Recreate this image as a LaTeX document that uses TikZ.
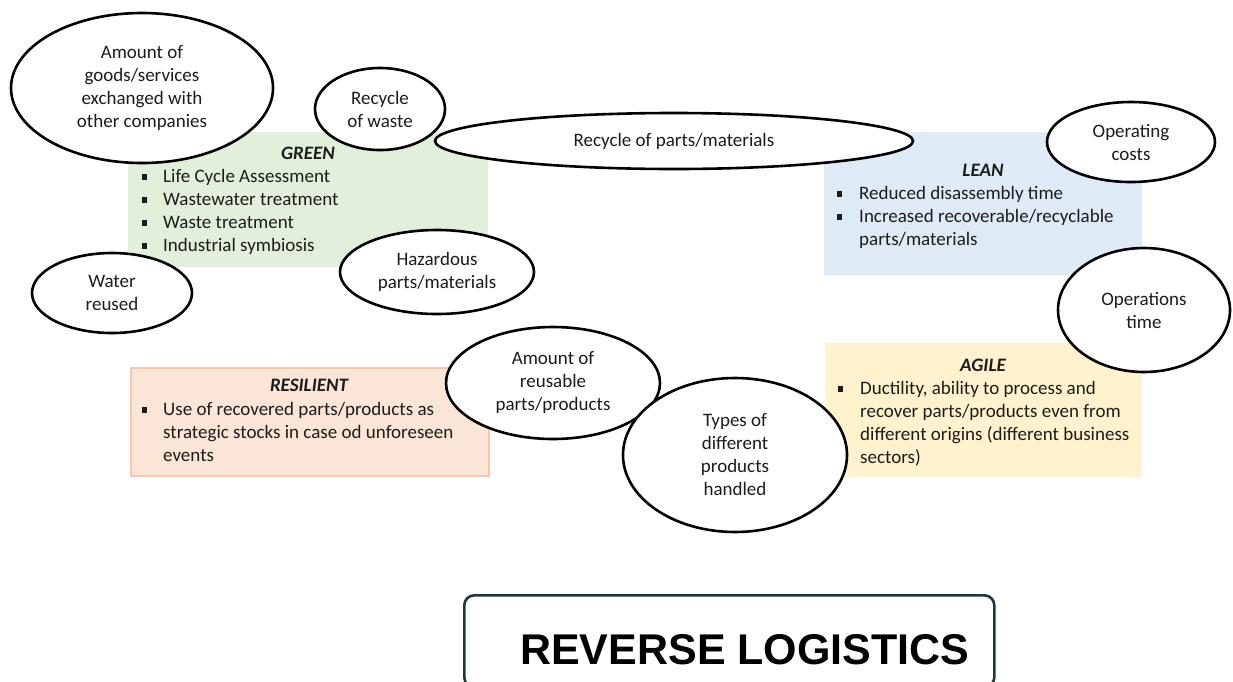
\documentclass[tikz,border=0pt]{standalone}
\usepackage{fontspec}
\setmainfont{Carlito}
\newfontfamily\headfont{Liberation Sans}
\usetikzlibrary{shapes.geometric}

\definecolor{greenfill}{HTML}{E2EFDA}
\definecolor{leanfill}{HTML}{DEEAF6}
\definecolor{agilefill}{HTML}{FFF2CC}
\definecolor{resfill}{HTML}{FBE5D6}
\definecolor{resline}{HTML}{F5C9AA}
\definecolor{frameline}{HTML}{1E3640}
\definecolor{ink}{HTML}{1C1C1C}

\newcommand\bodysize{\fontsize{19pt}{23pt}\selectfont}
\newcommand\sqbullet{\rule[2.4pt]{5pt}{5.5pt}}

\tikzset{
  oval/.style={ellipse, draw=black, line width=2.6pt, fill=white, inner sep=0pt,
    align=center, font=\bodysize, text=ink},
  panel/.style={rectangle, anchor=north west, inner sep=0pt, draw=none},
  panelhead/.style={anchor=base, inner sep=0pt, font=\bodysize\bfseries\itshape, text=ink},
  panelbody/.style={anchor=north west, inner sep=0pt, font=\bodysize, text=ink},
}

\begin{document}
\begin{tikzpicture}[x=1pt, y=-1pt]
\useasboundingbox (0,0) rectangle (1233,681);

% coloured panels
\node[panel, fill=greenfill, minimum width=360pt, minimum height=135pt] (green) at (128,132) {};
\node[panel, fill=leanfill, minimum width=318pt, minimum height=143pt] (lean) at (824,132) {};
\node[panel, fill=agilefill, minimum width=317pt, minimum height=134pt] (agile) at (825,343) {};
\node[panel, fill=resfill, draw=resline, line width=1.6pt, minimum width=358pt, minimum height=108pt] (resilient) at (130,367) {};

% panel headings
\node[panelhead] (greenhead) at (308,159) {GREEN};
\node[panelhead] (leanhead) at (983,176) {LEAN};
\node[panelhead] (agilehead) at (983,371) {AGILE};
\node[panelhead] (reshead) at (309,391) {RESILIENT};

% panel bullet lists
\node[panelbody] (greenbody) at (142,165.9) {\begin{tabular}{@{}p{21pt}@{}l@{}}
\sqbullet & Life Cycle Assessment\\
\sqbullet & Wastewater treatment\\
\sqbullet & Waste treatment\\
\sqbullet & Industrial symbiosis
\end{tabular}};
\node[panelbody] (leanbody) at (837,182.9) {\begin{tabular}{@{}p{22pt}@{}l@{}}
\sqbullet & Reduced disassembly time\\
\sqbullet & Increased recoverable/recyclable\\
 & parts/materials
\end{tabular}};
\node[panelbody] (agilebody) at (838,377.9) {\begin{tabular}{@{}p{22pt}@{}l@{}}
\sqbullet & Ductility, ability to process and\\
 & recover parts/products even from\\
 & different origins (different business\\
 & sectors)
\end{tabular}};
\node[panelbody] (resbody) at (142,398.9) {\begin{tabular}{@{}p{21pt}@{}l@{}}
\sqbullet & Use of recovered parts/products as\\
 & strategic stocks in case od unforeseen\\
 & events
\end{tabular}};

% indicator ovals
\node[oval, minimum width=262pt, minimum height=150pt] (goods) at (142,88)
  {Amount of\\goods/services\\exchanged with\\other companies};
\node[oval, minimum width=130pt, minimum height=82pt] (waste) at (380,109)
  {Recycle\\of waste};
\node[oval, minimum width=478pt, minimum height=56pt] (parts) at (674,141)
  {Recycle of parts/materials};
\node[oval, minimum width=160pt, minimum height=80pt] (water) at (112,293)
  {Water\\reused};
\node[oval, minimum width=194pt, minimum height=84pt] (hazard) at (437,272)
  {Hazardous\\parts/materials};
\node[oval, minimum width=168pt, minimum height=80pt] (opcost) at (1131,142)
  {Operating\\costs};
\node[oval, minimum width=172pt, minimum height=124pt] (optime) at (1144,310)
  {Operations\\time};
\node[oval, minimum width=214pt, minimum height=112pt] (reuse) at (553,383)
  {Amount of\\reusable\\parts/products};
\node[oval, minimum width=224pt, minimum height=154pt] (types) at (735,455)
  {Types of\\different\\products\\handled};

% title frame, running off the lower edge
\begin{scope}
  \clip (0,0) rectangle (1233,681);
  \node[panel, draw=frameline, line width=2.6pt, rounded corners=10pt,
        minimum width=530pt, minimum height=92pt] (frame) at (463,594) {};
\end{scope}
\node[anchor=base west, inner sep=0pt, font=\headfont\bfseries\fontsize{43pt}{50pt}\selectfont]
  (title) at (520,664) {REVERSE LOGISTICS};
\end{tikzpicture}
\end{document}
